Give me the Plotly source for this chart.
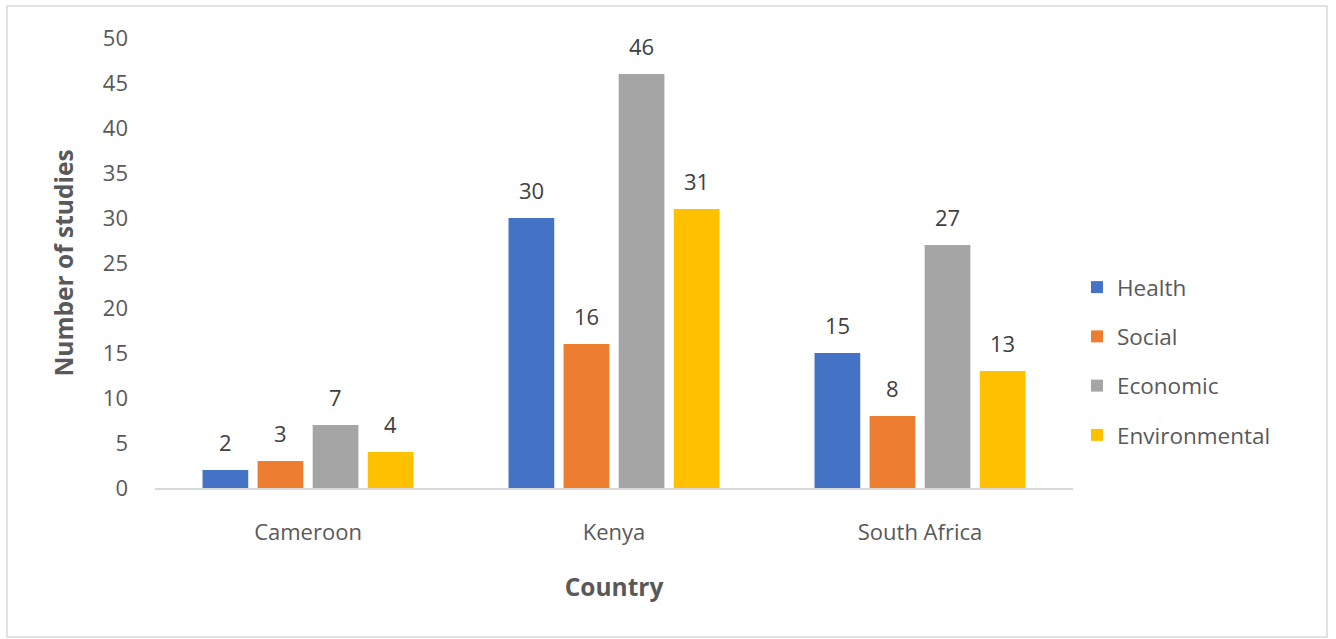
import plotly.graph_objects as go

countries = ["Cameroon", "Kenya", "South Africa"]
health = [2, 30, 15]
social = [3, 16, 8]
economic = [7, 46, 27]
environmental = [4, 31, 13]
series_names = ["Health", "Social", "Economic", "Environmental"]
colors = ["#4472C4", "#ED7D31", "#A5A5A5", "#FFC000"]
y_ticks = [0, 5, 10, 15, 20, 25, 30, 35, 40, 45, 50]

FONT = "'Open Sans', Lato, sans-serif"
BARGAP = 0.28
fig = go.Figure()
all_series = [health, social, economic, environmental]
n = len(all_series)
for name, vals, c in zip(series_names, all_series, colors):
    fig.add_trace(go.Bar(
        name=name, x=countries, y=vals, marker=dict(color=c, line=dict(width=0)),
        legendgroup=name,
    ))

# data labels above each bar
slot = (1 - BARGAP) / n
annotations = []
for k, vals in enumerate(all_series):
    for i, v in enumerate(vals):
        annotations.append(dict(
            x=i + (k - (n - 1) / 2) * slot, y=v, xref="x", yref="y",
            text=str(v), showarrow=False, yanchor="bottom", yshift=11,
            font=dict(size=22, color="#404040", family=FONT),
        ))

W, H = 1336, 639
L, R, T, B = 155, 263, 38, 151
pw, ph = W - L - R, H - T - B

def px(x):
    return (x - L) / pw

def py(y):
    return (H - B - y) / ph

fig.update_layout(
    width=W, height=H,
    margin=dict(l=L, r=R, t=T, b=B),
    paper_bgcolor="white", plot_bgcolor="white",
    barmode="group", bargap=BARGAP, bargroupgap=0.17,
    font=dict(family=FONT, color="#595959", size=22),
    showlegend=True,
    legend=dict(x=px(1077), xanchor="left", y=py(266), yanchor="top",
                font=dict(size=22.5, color="#595959", family=FONT),
                traceorder="grouped", tracegroupgap=17, itemwidth=30),
    xaxis=dict(showline=True, linecolor="#D9D9D9", linewidth=1.5, showgrid=False,
               ticks="", tickfont=dict(size=22, color="#595959"), ticklabelstandoff=24,
               title=dict(text="<b>Country</b>", font=dict(size=24.5, color="#595959"), standoff=34)),
    yaxis=dict(range=[0, 50], tickvals=y_ticks, showgrid=False, zeroline=False, showline=False,
               ticks="", tickfont=dict(size=22, color="#595959"), ticklabelstandoff=26,
               title=dict(text="<b>Number of studies</b>", font=dict(size=24.5, color="#595959"), standoff=22)),
    annotations=annotations,
    shapes=[dict(type="rect", xref="paper", yref="paper",
                 x0=px(7), x1=px(1327), y0=py(637), y1=py(6),
                 line=dict(color="#D9D9D9", width=1.5), fillcolor="rgba(0,0,0,0)", layer="below")],
)
fig.write_html("out.html")
